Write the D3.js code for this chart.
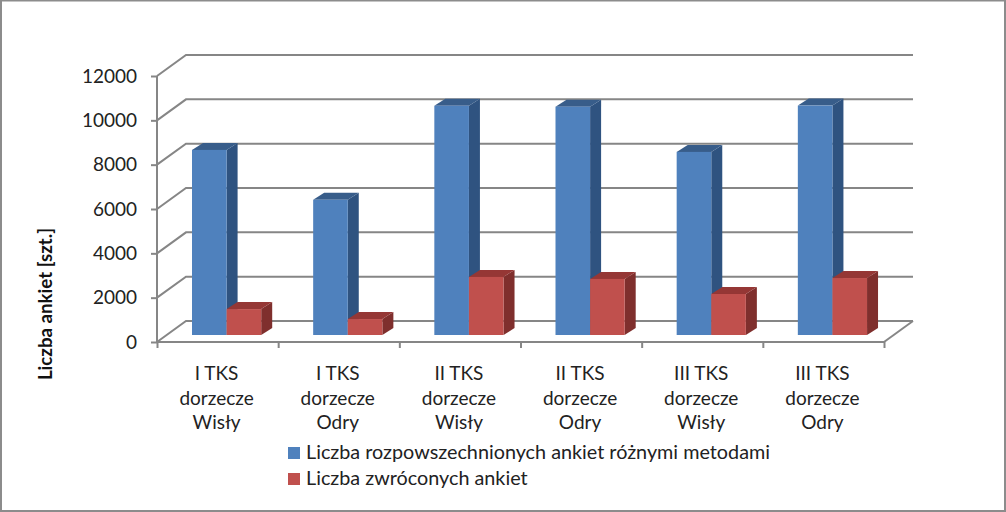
<!DOCTYPE html>
<html><head><meta charset="utf-8">
<script src="https://cdnjs.cloudflare.com/ajax/libs/d3/7.8.5/d3.min.js"></script>
<style>html,body{margin:0;padding:0;background:#fff}svg{display:block}text{font-family:Lato,"Open Sans",sans-serif;fill:#222}</style>
</head><body><svg id="c" width="1006" height="512"></svg>
<script>
const categories=[["I TKS","dorzecze","Wisły"],["I TKS","dorzecze","Odry"],["II TKS","dorzecze","Wisły"],["II TKS","dorzecze","Odry"],["III TKS","dorzecze","Wisły"],["III TKS","dorzecze","Odry"]];
const distributed=[8350,6100,10340,10300,8260,10350];
const returned=[1170,720,2620,2530,1850,2570];
const seriesNames=["Liczba rozpowszechnionych ankiet różnymi metodami","Liczba zwróconych ankiet"];
const yTicks=[0,2000,4000,6000,8000,10000,12000];
const colors=[["#4f81bd","#385d8a","#2f5380"],["#c0504d","#953735","#7f2f2d"]];

const svg=d3.select("#c");
const grey="#868686";
svg.append("rect").attr("x",1).attr("y",0.5).attr("width",1004).attr("height",510.5).attr("fill","#fff").attr("stroke","#8c8c8c").attr("stroke-width",2);

const x=d3.scaleBand().domain(d3.range(categories.length)).range([157,884]);
const y=d3.scaleLinear().domain([0,12000]).range([342,76]);
const dx=29,dy=-21;           // depth of the floor
const barDx=11,barDy=-7;      // depth of a bar
const baseShift=-7;           // bars stand this far behind the front edge
const barW=34.6, barOff=35;

// back gridlines + side wall
const g=svg.append("g").attr("fill","none").attr("stroke",grey).attr("stroke-width",2);
yTicks.forEach(t=>{
  g.append("path").attr("d",`M${x.range()[0]},${y(t)}L${x.range()[0]+dx},${y(t)+dy}H${x.range()[1]+dx}`);
});
g.append("path").attr("d",`M${x.range()[1]},${y(0)}L${x.range()[1]+dx},${y(0)+dy}`);

// axes
const yAxis=d3.axisLeft(y).tickValues(yTicks).tickSize(6).tickPadding(14).tickFormat(d3.format("d"));
const ya=svg.append("g").attr("transform","translate(157,0)").call(yAxis);
ya.selectAll("text").attr("font-size",19).style("fill","#222");
const xEdge=d3.scaleLinear().domain([0,categories.length]).range(x.range());
const xa=svg.append("g").attr("transform",`translate(0,${y(0)})`).call(d3.axisBottom(xEdge).tickValues(d3.range(categories.length+1)).tickSize(6).tickFormat(""));
[ya,xa].forEach(a=>{a.selectAll("path,line").attr("stroke",grey).attr("stroke-width",2);});
ya.select(".domain").attr("d",`M0,${y(12000)}V${y(0)}`);
xa.select(".domain").attr("d","M157,0H884");

// 3D bars
const h0=y(0);
function bar(i,v,s){
  const xl=x(i)+barOff+s*barW, xr=xl+barW, base=h0+baseShift, top=y(v)+baseShift;
  const b=svg.append("g");
  b.append("path").attr("fill",colors[s][2]).attr("d",`M${xr},${top}L${xr+barDx},${top+barDy}V${base+barDy}L${xr},${base}Z`);
  b.append("path").attr("fill",colors[s][1]).attr("d",`M${xl},${top}L${xl+barDx},${top+barDy}H${xr+barDx}L${xr},${top}Z`);
  b.append("rect").attr("fill",colors[s][0]).attr("x",xl).attr("y",top).attr("width",barW).attr("height",base-top);
}
categories.forEach((c,i)=>{bar(i,distributed[i],0);bar(i,returned[i],1);});

// category labels
categories.forEach((c,i)=>{
  const t=svg.append("text").attr("text-anchor","middle").attr("font-size",19);
  c.forEach((l,k)=>t.append("tspan").attr("x",x(i)+x.bandwidth()/2-1).attr("y",380+k*24.5).text(l));
});

// y title
svg.append("text").attr("transform","translate(52,304) rotate(-90)").attr("text-anchor","middle").attr("font-size",18.7).attr("font-weight",700).style("fill","#111").text("Liczba ankiet [szt.]");

// legend
seriesNames.forEach((n,i)=>{
  const ly=453+i*26;
  svg.append("rect").attr("x",288).attr("y",ly-6).attr("width",12).attr("height",12).attr("fill",colors[i][0]);
  svg.append("text").attr("x",306).attr("y",ly+6).attr("font-size",19.8).text(n);
});
</script></body></html>
